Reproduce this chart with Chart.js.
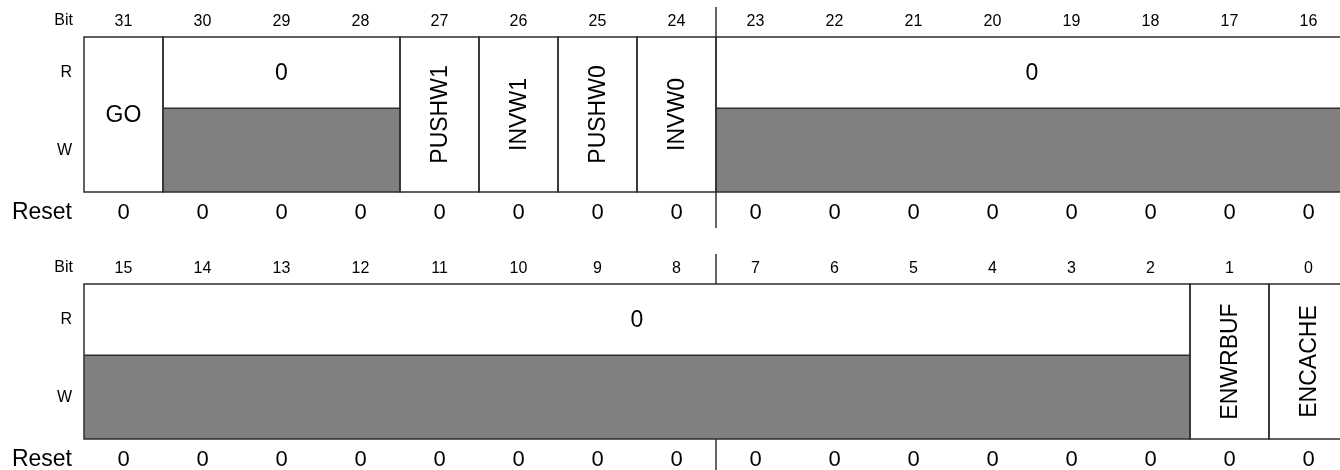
<!DOCTYPE html>
<html><head><meta charset="utf-8">
<script src="https://cdn.jsdelivr.net/npm/chart.js@4/dist/chart.umd.min.js"></script>
<style>
html,body{margin:0;padding:0;background:#fff;overflow:hidden;}
#wrap{width:1340px;height:470px;overflow:hidden;position:relative;background:#fff;}
canvas.half{position:absolute;left:0;width:1348px;height:247px;}
#c1{top:0;} #c2{top:247px;}
</style></head><body>
<div id="wrap"><canvas id="c1" class="half" width="1348" height="247"></canvas><canvas id="c2" class="half" width="1348" height="247"></canvas></div>
<script>
// ---- data ----
const bitsUpper = [31, 30, 29, 28, 27, 26, 25, 24, 23, 22, 21, 20, 19, 18, 17, 16];
const bitsLower = [15, 14, 13, 12, 11, 10, 9, 8, 7, 6, 5, 4, 3, 2, 1, 0];
const resetUpper = [0, 0, 0, 0, 0, 0, 0, 0, 0, 0, 0, 0, 0, 0, 0, 0];
const resetLower = [0, 0, 0, 0, 0, 0, 0, 0, 0, 0, 0, 0, 0, 0, 0, 0];
const rowLabels = ['R', 'W'];
const fieldNames = ['GO', '0', 'PUSHW1', 'INVW1', 'PUSHW0', 'INVW0', '0', '0', 'ENWRBUF', 'ENCACHE'];
const fieldMsb   = [31, 30, 27, 26, 25, 24, 23, 15, 1, 0];
const fieldLsb   = [31, 28, 27, 26, 25, 24, 16, 2, 1, 0];
const fieldType  = ['rw', 'reserved', 'rw', 'rw', 'rw', 'rw', 'reserved', 'reserved', 'rw', 'rw'];

// ---- layout / style ----
const RH = 71.5, WH = 84;
const FONT = "'Liberation Sans', Arial, Helvetica, sans-serif";
const LINE = '#2e2e2e', GRAY = '#808080';
Chart.defaults.font.family = FONT;
Chart.defaults.color = '#000';

const regPlugin = {
  id: 'reg',
  afterDraw(chart) {
    const ctx = chart.ctx, x = chart.scales.x, y = chart.scales.y, ca = chart.chartArea;
    const lo = x.min + 0.5;
    const yTop = y.getPixelForValue(RH + WH), ySplit = y.getPixelForValue(WH), yBot = y.getPixelForValue(0);
    ctx.save();
    // byte separator
    const xs = x.getPixelForValue(lo + 7.5);
    ctx.strokeStyle = '#111'; ctx.lineWidth = 1.3;
    ctx.beginPath(); ctx.moveTo(xs, yTop - 30); ctx.lineTo(xs, yBot + 36); ctx.stroke();
    // fields
    const fields = chart.data.datasets[0].data;
    fields.forEach(f => {
      const xl = x.getPixelForValue(f.msb + 0.5), xr = x.getPixelForValue(f.lsb - 0.5);
      ctx.fillStyle = '#fff'; ctx.fillRect(xl, yTop, xr - xl, yBot - yTop);
      if (f.type === 'reserved') { ctx.fillStyle = GRAY; ctx.fillRect(xl, ySplit, xr - xl, yBot - ySplit); }
    });
    ctx.strokeStyle = LINE; ctx.lineWidth = 1.5;
    fields.forEach(f => {
      const xl = x.getPixelForValue(f.msb + 0.5), xr = x.getPixelForValue(f.lsb - 0.5);
      ctx.strokeRect(xl, yTop, xr - xl, yBot - yTop);
      if (f.type === 'reserved') { ctx.beginPath(); ctx.moveTo(xl, ySplit); ctx.lineTo(xr, ySplit); ctx.stroke(); }
    });
    // field texts
    ctx.fillStyle = '#000'; ctx.textAlign = 'center'; ctx.textBaseline = 'middle';
    ctx.font = '23px ' + FONT;
    fields.forEach(f => {
      const xl = x.getPixelForValue(f.msb + 0.5), xr = x.getPixelForValue(f.lsb - 0.5);
      const xc = (xl + xr) / 2;
      if (f.type === 'reserved') {
        ctx.fillText(f.name, xc, (yTop + ySplit) / 2 + 1);
      } else {
        const w = ctx.measureText(f.name).width;
        const yc = (yTop + yBot) / 2;
        if (w <= (xr - xl) - 12) {
          ctx.fillText(f.name, xc, yc + 1);
        } else {
          ctx.save(); ctx.translate(xc + 1, yc); ctx.rotate(-Math.PI / 2);
          ctx.fillText(f.name, 0, 0); ctx.restore();
        }
      }
    });
    // row titles
    ctx.textAlign = 'right';
    ctx.font = '16px ' + FONT;
    ctx.fillText('Bit', ca.left - 11, ca.top - 16);
    ctx.font = '23px ' + FONT;
    ctx.fillText('Reset', ca.left - 12, ca.bottom + 21);
    ctx.restore();
  }
};

function makeChart(id, bits, resets) {
  const lo = Math.min(...bits), hi = Math.max(...bits);
  const fields = fieldNames.map((n, i) => ({ name: n, msb: fieldMsb[i], lsb: fieldLsb[i], type: fieldType[i],
      x: (fieldMsb[i] + fieldLsb[i]) / 2, y: (RH + WH) / 2 }))
    .filter(f => f.lsb >= lo && f.msb <= hi);
  const xAxis = (pos, cb, pad, size, h) => ({
    type: 'linear', position: pos, min: lo - 0.5, max: hi + 0.5, reverse: true, bounds: 'data',
    grid: { display: false, drawTicks: false }, border: { display: false },
    afterBuildTicks: s => { s.ticks = bits.map(v => ({ value: v })); },
    afterFit: s => { s.height = h; },
    ticks: { autoSkip: false, maxRotation: 0, minRotation: 0, padding: pad, color: '#000',
      font: { size: size }, callback: cb }
  });
  return new Chart(document.getElementById(id), {
    type: 'scatter',
    data: { datasets: [{ data: fields, pointRadius: 0, pointHoverRadius: 0, showLine: false }] },
    options: {
      responsive: false, animation: false, devicePixelRatio: 1,
      layout: { padding: 0 },
      plugins: { legend: { display: false }, tooltip: { enabled: false } },
      events: [],
      scales: {
        x: xAxis('top', v => String(v), 6, 16, 37),
        x2: xAxis('bottom', (v, i) => String(resets[i]), 7.5, 22, 55),
        y: {
          type: 'linear', position: 'left', min: 0, max: RH + WH, bounds: 'data',
          grid: { display: false, drawTicks: false }, border: { display: false },
          afterBuildTicks: s => { s.ticks = [{ value: WH + RH / 2 }, { value: WH / 2 }]; },
          afterFit: s => { s.width = 84; },
          ticks: { autoSkip: false, padding: 12, color: '#000', font: { size: 16 },
            callback: (v, i) => rowLabels[i] }
        }
      }
    },
    plugins: [regPlugin]
  });
}
makeChart('c1', bitsUpper, resetUpper);
makeChart('c2', bitsLower, resetLower);
</script>
</body></html>
